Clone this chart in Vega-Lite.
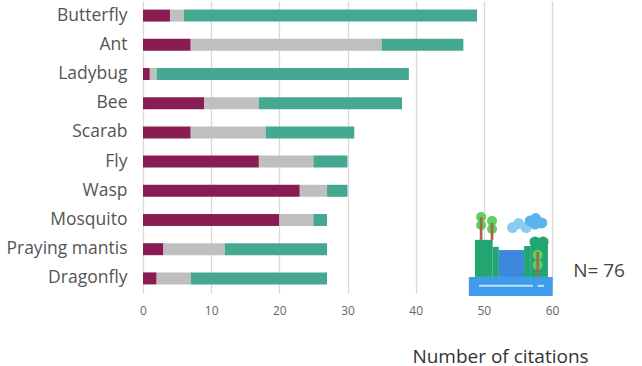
{"$schema":"https://vega.github.io/schema/vega-lite/v6.json","width":409,"height":292,"autosize":"none","padding":{"left":143,"top":1,"right":90,"bottom":73},"background":"white","config":{"view":{"stroke":null}},"datasets":{"bars":[{"s":"Butterfly","a":4,"b":2,"c":43},{"s":"Ant","a":7,"b":28,"c":12},{"s":"Ladybug","a":1,"b":1,"c":37},{"s":"Bee","a":9,"b":8,"c":21},{"s":"Scarab","a":7,"b":11,"c":13},{"s":"Fly","a":17,"b":8,"c":5},{"s":"Wasp","a":23,"b":4,"c":3},{"s":"Mosquito","a":20,"b":5,"c":2},{"s":"Praying mantis","a":3,"b":9,"c":15},{"s":"Dragonfly","a":2,"b":5,"c":20}],"rects":[{"part":"land","x":48.7,"x2":51.3,"lo":5.5,"hi":18.2},{"part":"land","x":51.3,"x2":52.2,"lo":5.5,"hi":15.8},{"part":"water","x":52.2,"x2":55.9,"lo":5.5,"hi":14.7},{"part":"land","x":55.9,"x2":56.9,"lo":5.5,"hi":16.1},{"part":"land","x":56.9,"x2":59.4,"lo":5.5,"hi":17.5},{"part":"base","x":47.8,"x2":60.1,"lo":-1,"hi":5.5},{"part":"foam","x":49.3,"x2":57.2,"lo":2.1,"hi":2.8},{"part":"foam","x":57.9,"x2":58.8,"lo":2.1,"hi":2.8}],"trunks":[{"part":"trunk","x":49.4,"x2":49.8,"lo":18.2,"hi":26},{"part":"trunk","x":51,"x2":51.4,"lo":18.2,"hi":24},{"part":"trunk","x":57.7,"x2":58.1,"lo":6,"hi":14}],"blobs":[{"part":"leaf","x":49.6,"y":26},{"part":"leaf","x":49.6,"y":23.3},{"part":"leaf","x":51.2,"y":24.7},{"part":"leaf","x":51.2,"y":21.9},{"part":"leaf","x":57.9,"y":13},{"part":"leaf","x":57.9,"y":9.6},{"part":"land","x":57.5,"y":17.5},{"part":"land","x":58.7,"y":17.5},{"part":"clouda","x":54.2,"y":22.4},{"part":"clouda","x":55.1,"y":23.8},{"part":"clouda","x":56.2,"y":22.4},{"part":"cloudb","x":56.8,"y":24.7},{"part":"cloudb","x":57.6,"y":25.5},{"part":"cloudb","x":58.5,"y":24},{"part":"cloudb","x":57.5,"y":23.6}],"note":[{"x":63.1,"y":7.5,"t":"N= 76"}]},"resolve":{"scale":{"y":"independent","color":"independent"}},"layer":[{"data":{"name":"bars"},"transform":[{"fold":["a","b","c"],"as":["k","v"]}],"mark":{"type":"bar","size":12},"encoding":{"y":{"field":"s","type":"nominal","sort":null,"title":null,"scale":{"paddingInner":0.5,"paddingOuter":0.25},"axis":{"domain":false,"ticks":false,"labelFont":"Open Sans","labelFontSize":17.5,"labelColor":"#555","labelPadding":16}},"x":{"field":"v","type":"quantitative","aggregate":"sum","stack":"zero","title":"Number of citations","scale":{"domain":[0,60]},"axis":{"values":[0,10,20,30,40,50,60],"grid":true,"gridColor":"#d9d9d9","gridWidth":1.3,"domain":false,"ticks":false,"labelFlush":false,"labelFont":"Open Sans","labelFontSize":12,"labelColor":"#666","labelPadding":12,"titleFont":"Open Sans","titleFontSize":19,"titleFontWeight":"normal","titleColor":"#333","titleX":357,"titleY":69,"titleAlign":"center","titleBaseline":"alphabetic"}},"color":{"field":"k","type":"nominal","legend":null,"scale":{"domain":["a","b","c"],"range":["#8a1c54","#bfbfbf","#45a891"]}},"order":{"field":"k"}}},{"data":{"name":"rects"},"mark":{"type":"rect","clip":false},"encoding":{"x":{"field":"x","type":"quantitative","scale":{"domain":[0,60]}},"x2":{"field":"x2"},"y":{"field":"lo","type":"quantitative","title":null,"scale":{"domain":[0,100]},"axis":null},"y2":{"field":"hi"},"color":{"field":"part","type":"nominal","legend":null,"scale":{"domain":["land","water","trunk","base","foam","leaf","clouda","cloudb"],"range":["#22a570","#3d87dc","#a8654a","#3f9cec","#bfe3fb","#5fcf62","#8ccbf0","#5cb2ea"]}}}},{"data":{"name":"blobs"},"transform":[{"filter":"datum.part !== 'leaf'"}],"mark":{"type":"point","shape":"circle","filled":true,"opacity":1,"size":120,"clip":false},"encoding":{"x":{"field":"x","type":"quantitative","scale":{"domain":[0,60]}},"y":{"field":"y","type":"quantitative","title":null,"scale":{"domain":[0,100]},"axis":null},"color":{"field":"part","type":"nominal","legend":null,"scale":{"domain":["land","water","trunk","base","foam","leaf","clouda","cloudb"],"range":["#22a570","#3d87dc","#a8654a","#3f9cec","#bfe3fb","#5fcf62","#8ccbf0","#5cb2ea"]}}}},{"data":{"name":"blobs"},"transform":[{"filter":"datum.part === 'leaf'"}],"mark":{"type":"point","shape":"circle","filled":true,"opacity":1,"size":100,"clip":false},"encoding":{"x":{"field":"x","type":"quantitative","scale":{"domain":[0,60]}},"y":{"field":"y","type":"quantitative","title":null,"scale":{"domain":[0,100]},"axis":null},"color":{"field":"part","type":"nominal","legend":null,"scale":{"domain":["land","water","trunk","base","foam","leaf","clouda","cloudb"],"range":["#22a570","#3d87dc","#a8654a","#3f9cec","#bfe3fb","#5fcf62","#8ccbf0","#5cb2ea"]}}}},{"data":{"name":"trunks"},"mark":{"type":"rect","clip":false},"encoding":{"x":{"field":"x","type":"quantitative","scale":{"domain":[0,60]}},"x2":{"field":"x2"},"y":{"field":"lo","type":"quantitative","title":null,"scale":{"domain":[0,100]},"axis":null},"y2":{"field":"hi"},"color":{"field":"part","type":"nominal","legend":null,"scale":{"domain":["land","water","trunk","base","foam","leaf","clouda","cloudb"],"range":["#22a570","#3d87dc","#a8654a","#3f9cec","#bfe3fb","#5fcf62","#8ccbf0","#5cb2ea"]}}}},{"data":{"name":"note"},"mark":{"type":"text","align":"left","baseline":"middle","font":"Open Sans","fontSize":19,"color":"#444","clip":false},"encoding":{"x":{"field":"x","type":"quantitative","scale":{"domain":[0,60]}},"y":{"field":"y","type":"quantitative","title":null,"scale":{"domain":[0,100]},"axis":null},"text":{"field":"t"}}}]}
